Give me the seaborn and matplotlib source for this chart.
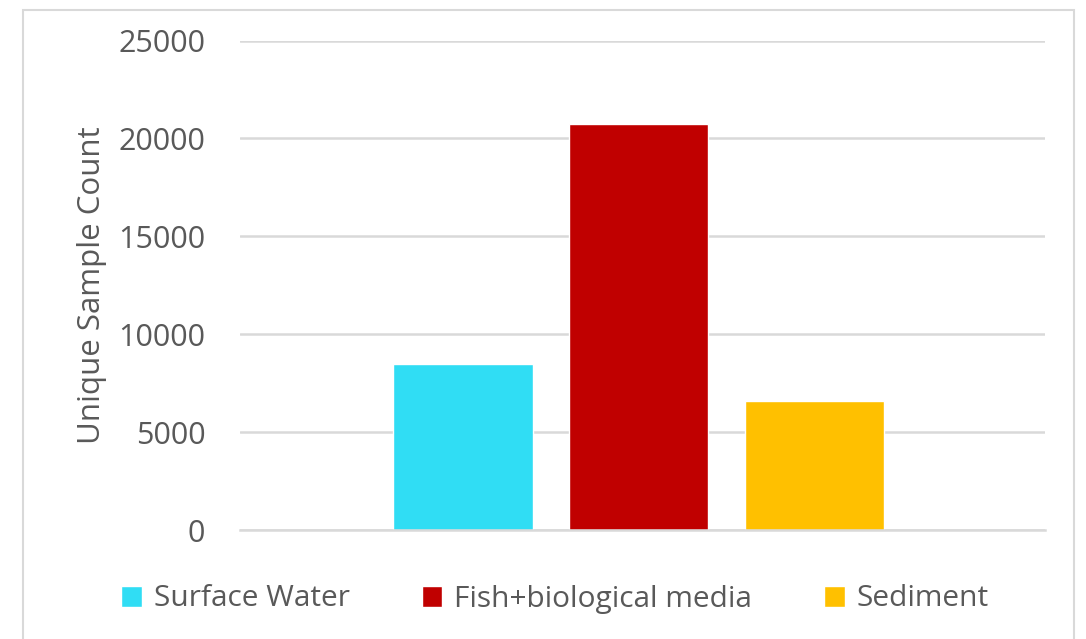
import pandas as pd
import matplotlib.pyplot as plt
import seaborn as sns
from matplotlib.patches import Rectangle

media = ["Surface Water", "Fish+biological media", "Sediment"]
sample_counts = [8480, 20740, 6570]
bar_colors = ["#30DDF4", "#C00000", "#FFC000"]

df = pd.DataFrame({"media": media, "count": sample_counts})

sns.set_theme(style="white")
plt.rcParams["font.family"] = ["Open Sans", "DejaVu Sans"]
text_color = "#595959"
grid_color = "#D9D9D9"

fig = plt.figure(figsize=(10.86, 6.39), dpi=100)
ax = fig.add_axes([240 / 1086, 1 - 530 / 639, 805 / 1086, 489.5 / 639])

sns.barplot(data=df, x="media", y="count", hue="media", palette=bar_colors,
            width=0.79, ax=ax, legend=True, saturation=1)

ax.set_ylim(0, 25000)
ax.set_yticks(range(0, 25001, 5000))
ax.set_xlim(1 - 2.287 + 0.02, 1 + 2.287 + 0.02)
ax.set_xticks([])
ax.set_xlabel("")
ax.set_ylabel("Unique Sample Count", fontsize=22.5, color=text_color, labelpad=8)
ax.tick_params(axis="y", labelsize=22, labelcolor=text_color, length=0, pad=25)
ax.yaxis.grid(True, color=grid_color, linewidth=1.8)
ax.set_axisbelow(True)
for s in ["top", "right", "left"]:
    ax.spines[s].set_visible(False)
ax.spines["bottom"].set_color(grid_color)
ax.spines["bottom"].set_linewidth(1.8)

handles, labels = ax.get_legend_handles_labels()
ax.get_legend().remove()
fig.legend(handles, labels, loc="center", bbox_to_anchor=(555 / 1086, 1 - 599 / 639),
           ncol=3, frameon=False, fontsize=21.5, labelcolor=text_color,
           handlelength=0.7, handleheight=0.7, handletextpad=0.4, columnspacing=2.4)

fig.patches.append(Rectangle((23 / 1086, -0.05), (1074 - 23) / 1086, 1.05 - 10 / 639,
                             transform=fig.transFigure, fill=False,
                             edgecolor=grid_color, linewidth=1.5))

fig.savefig("out.png", dpi=100)
